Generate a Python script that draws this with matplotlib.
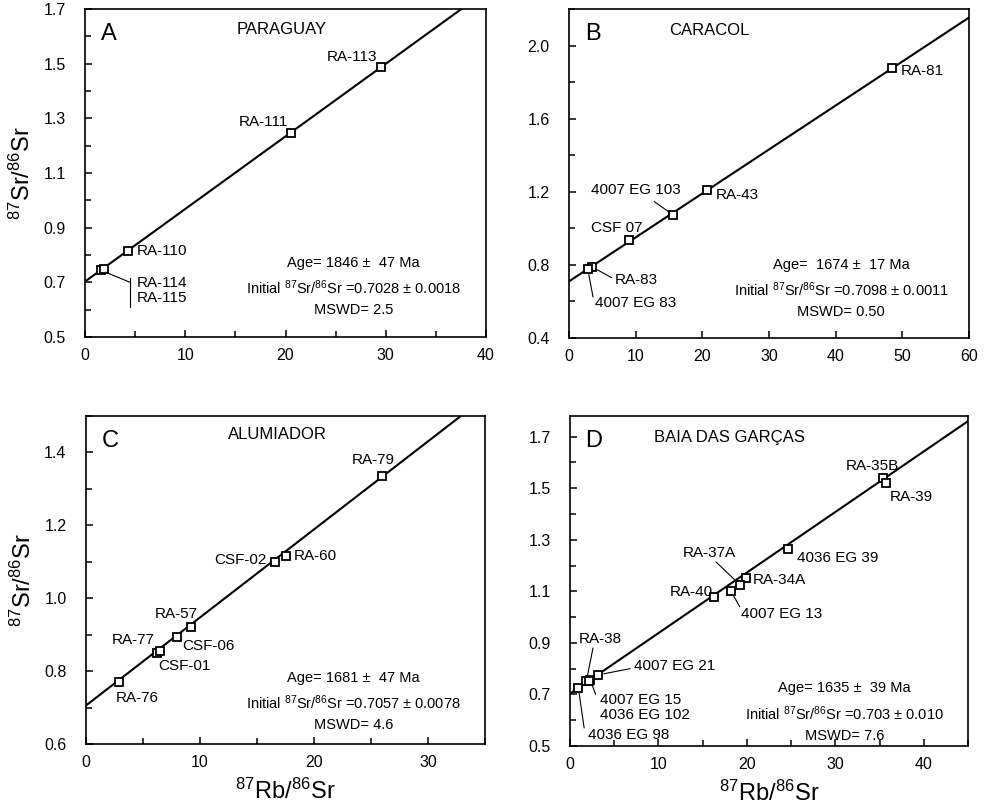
"""Rb-Sr whole-rock isochrons for four granite suites (2x2 panel figure)."""
import numpy as np
import matplotlib

matplotlib.use("Agg")
import matplotlib.pyplot as plt
from matplotlib.ticker import MultipleLocator

plt.rcParams["font.family"] = ["Liberation Sans", "DejaVu Sans"]
plt.rcParams["mathtext.fontset"] = "custom"
plt.rcParams["mathtext.rm"] = "Liberation Sans"
plt.rcParams["mathtext.it"] = "Liberation Sans:italic"
plt.rcParams["mathtext.bf"] = "Liberation Sans:bold"

LAMBDA_RB = 1.42e-11  # 87Rb decay constant, 1/yr

# ---- A: Paraguay
para_names = ["RA-110", "RA-111", "RA-113", "RA-114", "RA-115"]
para_rb = [4.3, 20.5, 29.5, 1.55, 1.85]
para_sr = [0.815, 1.247, 1.486, 0.745, 0.750]
para_age = "1846 \u00b1  47"
para_age_ma = 1846
para_init = 0.7028
para_init_txt = "0.7028 \u00b1 0.0018"
para_mswd = "2.5"

# ---- B: Caracol
cara_names = ["RA-81", "RA-43", "4007 EG 103", "CSF 07", "RA-83", "4007 EG 83"]
cara_rb = [48.5, 20.7, 15.6, 9.0, 3.4, 2.8]
cara_sr = [1.877, 1.210, 1.074, 0.937, 0.790, 0.780]
cara_age = " 1674 \u00b1  17"
cara_age_ma = 1674
cara_init = 0.7098
cara_init_txt = "0.7098 \u00b1 0.0011"
cara_mswd = "0.50"

# ---- C: Alumiador
alum_names = ["RA-76", "RA-77", "CSF-01", "CSF-06", "RA-57", "CSF-02", "RA-60", "RA-79"]
alum_rb = [2.9, 6.2, 6.5, 7.95, 9.2, 16.6, 17.5, 26.0]
alum_sr = [0.769, 0.850, 0.855, 0.893, 0.920, 1.100, 1.117, 1.334]
alum_age = "1681 \u00b1  47"
alum_age_ma = 1681
alum_init = 0.7057
alum_init_txt = "0.7057 \u00b1 0.0078"
alum_mswd = "4.6"

# ---- D: Baia das Garcas
baia_names = ["RA-35B", "RA-39", "4036 EG 39", "RA-34A", "RA-37A", "4007 EG 13",
              "RA-40", "4007 EG 21", "RA-38", "4007 EG 15", "4036 EG 102", "4036 EG 98"]
baia_rb = [35.4, 35.7, 24.7, 19.85, 19.2, 18.2, 16.3, 3.2, 1.85, 2.3, 2.2, 0.94]
baia_sr = [1.538, 1.520, 1.263, 1.151, 1.126, 1.100, 1.078, 0.776, 0.752, 0.755, 0.753, 0.726]
baia_age = "1635 \u00b1  39"
baia_age_ma = 1635
baia_init = 0.703
baia_init_txt = "0.703 \u00b1 0.010"
baia_mswd = "7.6"

# label layout: name -> (text x, text y, ha, leader end or None)
para_layout = {
    "RA-110": (5.2, 0.815, "left", None),
    "RA-111": (20.3, 1.285, "right", None),
    "RA-113": (29.2, 1.525, "right", None),
    "RA-114": (5.2, 0.698, "left", None),
    "RA-115": (5.2, 0.643, "left", None),
}
cara_layout = {
    "RA-81": (49.8, 1.860, "left", None),
    "RA-43": (22.0, 1.180, "left", None),
    "4007 EG 103": (10.1, 1.210, "center", (12.8, 1.146)),
    "CSF 07": (11.0, 1.000, "right", None),
    "RA-83": (6.9, 0.720, "left", (6.4, 0.730)),
    "4007 EG 83": (3.9, 0.590, "left", (3.6, 0.625)),
}
alum_layout = {
    "RA-76": (2.6, 0.727, "left", None),
    "RA-77": (6.0, 0.884, "right", None),
    "CSF-01": (6.3, 0.815, "left", None),
    "CSF-06": (8.4, 0.870, "left", None),
    "RA-57": (7.9, 0.958, "center", None),
    "CSF-02": (15.85, 1.105, "right", None),
    "RA-60": (18.2, 1.115, "left", None),
    "RA-79": (25.2, 1.380, "center", None),
}
baia_layout = {
    "RA-35B": (34.2, 1.587, "center", None),
    "RA-39": (36.1, 1.465, "left", None),
    "4036 EG 39": (25.7, 1.229, "left", None),
    "RA-34A": (20.7, 1.145, "left", None),
    "RA-37A": (15.8, 1.247, "center", (16.5, 1.214)),
    "4007 EG 13": (19.3, 1.013, "left", (19.2, 1.040)),
    "RA-40": (16.1, 1.097, "right", None),
    "4007 EG 21": (7.2, 0.810, "left", (6.8, 0.800)),
    "RA-38": (3.4, 0.915, "center", (2.6, 0.880)),
    "4007 EG 15": (3.4, 0.677, "left", (2.9, 0.700)),
    "4036 EG 102": (3.4, 0.619, "left", None),
    "4036 EG 98": (2.0, 0.542, "left", (1.6, 0.570)),
}

W, H = 986, 805


def px_axes(fig, left, right, top, bottom):
    return fig.add_axes([left / W, 1 - bottom / H, (right - left) / W, (bottom - top) / H])


def draw_panel(ax, names, rb, sr, layout, age_ma, init, stats, letter, title,
               title_pos, stats_pos, xlim, ylim, xmaj, xmin, ymaj, ymin, yoff=0.0):
    slope = np.exp(LAMBDA_RB * age_ma * 1e6) - 1
    xs = np.array([0, xlim[1]])
    ax.plot(xs, init + slope * xs, color="black", lw=1.5, zorder=2)
    ax.plot(rb, sr, ls="none", marker="s", ms=6, mfc="white", mec="black",
            mew=1.3, zorder=3)

    for name, x, y in zip(names, rb, sr):
        tx, ty, ha, lead = layout[name]
        ax.text(tx, ty, name, ha=ha, va="center", fontsize=11)
        if lead is not None:
            ax.annotate("", xy=(x, y), xytext=lead,
                        arrowprops=dict(arrowstyle="-", lw=0.8, color="black",
                                        shrinkA=0, shrinkB=4))

    ax.set_xlim(*xlim)
    ax.set_ylim(*ylim)
    ax.xaxis.set_major_locator(MultipleLocator(xmaj))
    if xmin:
        ax.xaxis.set_minor_locator(MultipleLocator(xmin))
    ax.yaxis.set_major_locator(MultipleLocator(ymaj, offset=yoff))
    ax.yaxis.set_minor_locator(MultipleLocator(ymin))
    ax.yaxis.set_major_formatter(lambda v, pos: f"{v:.1f}")
    ax.tick_params(which="both", direction="in", width=1.1, labelsize=11.5)
    ax.tick_params(which="major", length=5)
    ax.tick_params(which="minor", length=4)
    ax.tick_params(axis="y", pad=14)
    ax.tick_params(axis="x", pad=8)
    for sp in ax.spines.values():
        sp.set_linewidth(1.2)

    ax.text(0.06, 0.925, letter, transform=ax.transAxes, fontsize=17,
            ha="center", va="center")
    ax.text(title_pos[0], title_pos[1], title, transform=ax.transAxes,
            fontsize=12, ha="center", va="center")
    ax.text(stats_pos[0], stats_pos[1], stats, transform=ax.transAxes,
            fontsize=10.5, ha="center", va="center", linespacing=1.55)


def stats_text(age, init_txt, mswd):
    return (f"Age= {age} Ma\n"
            f"Initial $^{{87}}$Sr/$^{{86}}$Sr ={init_txt}\n"
            f"MSWD= {mswd}")


fig = plt.figure(figsize=(W / 100, H / 100), dpi=100)

ax_a = px_axes(fig, 85, 486, 9, 337)
ax_b = px_axes(fig, 569, 969, 9, 338)
ax_c = px_axes(fig, 86, 485, 416, 744)
ax_d = px_axes(fig, 570, 968, 416, 746)

draw_panel(ax_a, para_names, para_rb, para_sr, para_layout, para_age_ma, para_init,
           stats_text(para_age, para_init_txt, para_mswd), "A", "PARAGUAY",
           (0.49, 0.936), (0.67, 0.153), (0, 40), (0.5, 1.7), 10, 5, 0.2, 0.1,
           yoff=0.1)
# RA-114 / RA-115 bracket
ax_a.annotate("", xy=(para_rb[3], para_sr[3]), xytext=(4.5, 0.70),
              arrowprops=dict(arrowstyle="-", lw=0.8, color="black", shrinkA=0, shrinkB=4))
ax_a.plot([4.5, 4.5], [0.61, 0.716], color="black", lw=0.8)

draw_panel(ax_b, cara_names, cara_rb, cara_sr, cara_layout, cara_age_ma, cara_init,
           stats_text(cara_age, cara_init_txt, cara_mswd), "B", "CARACOL",
           (0.35, 0.936), (0.68, 0.15), (0, 60), (0.4, 2.2), 10, None, 0.4, 0.2)

draw_panel(ax_c, alum_names, alum_rb, alum_sr, alum_layout, alum_age_ma, alum_init,
           stats_text(alum_age, alum_init_txt, alum_mswd), "C", "ALUMIADOR",
           (0.48, 0.945), (0.67, 0.13), (0, 35), (0.6, 1.5), 10, 5, 0.2, 0.1)

draw_panel(ax_d, baia_names, baia_rb, baia_sr, baia_layout, baia_age_ma, baia_init,
           stats_text(baia_age, baia_init_txt, baia_mswd), "D", "BAIA DAS GAR\u00c7AS",
           (0.40, 0.936), (0.69, 0.103), (0, 45), (0.5, 1.78), 10, 5, 0.2, 0.1,
           yoff=0.1)

for ax in (ax_a, ax_c):
    ax.set_ylabel("$^{87}$Sr/$^{86}$Sr", fontsize=17, labelpad=6)
for ax in (ax_c, ax_d):
    ax.set_xlabel("$^{87}$Rb/$^{86}$Sr", fontsize=17, labelpad=6)

fig.savefig("out.png", dpi=100)
